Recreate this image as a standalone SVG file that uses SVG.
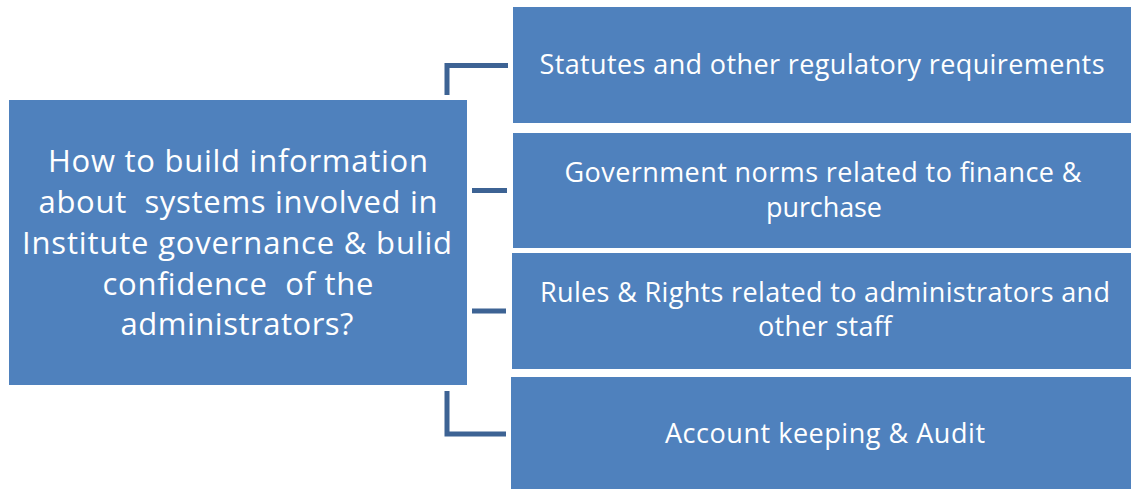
<svg xmlns="http://www.w3.org/2000/svg" width="1131" height="489" viewBox="0 0 1131 489">
<style>
.box{fill:#4f81bd;}
.t{font-family:"Open Sans","Liberation Sans",sans-serif;fill:#ffffff;text-anchor:middle;white-space:pre;}
.big{font-size:31px;}
.small{font-size:27px;}
.conn{fill:none;stroke:#3d6394;stroke-width:5;}
</style>
<rect width="1131" height="489" fill="#ffffff"/>
<g id="connectors">
<polyline class="conn" points="447,95 447,65.5 508,65.5"/>
<line class="conn" x1="472" y1="190.5" x2="507" y2="190.5"/>
<line class="conn" x1="472" y1="311" x2="506" y2="311"/>
<polyline class="conn" points="447,391 447,434 506,434"/>
</g>
<g id="main">
<rect class="box" x="9" y="100" width="458" height="285"/>
<text class="t big" xml:space="preserve"><tspan x="238" y="172" textLength="380">How to build information</tspan><tspan x="238" y="213" textLength="399">about  systems involved in</tspan><tspan x="237" y="254" textLength="430">Institute governance &amp; bulid</tspan><tspan x="238" y="295" textLength="271">confidence  of the</tspan><tspan x="237" y="335" textLength="233">administrators?</tspan></text>
</g>
<g id="n1">
<rect class="box" x="513" y="7" width="618" height="116"/>
<text class="t small" x="822" y="74" textLength="565">Statutes and other regulatory requirements</text>
</g>
<g id="n2">
<rect class="box" x="513" y="133" width="618" height="115"/>
<text class="t small"><tspan x="823" y="182" textLength="517">Government norms related to finance &amp;</tspan><tspan x="824" y="217" textLength="116">purchase</tspan></text>
</g>
<g id="n3">
<rect class="box" x="512" y="253" width="619" height="116"/>
<text class="t small"><tspan x="825" y="302" textLength="570">Rules &amp; Rights related to administrators and</tspan><tspan x="825" y="336" textLength="134">other staff</tspan></text>
</g>
<g id="n4">
<rect class="box" x="511" y="377" width="620" height="112"/>
<text class="t small" x="825" y="443" textLength="320">Account keeping &amp; Audit</text>
</g>
</svg>
